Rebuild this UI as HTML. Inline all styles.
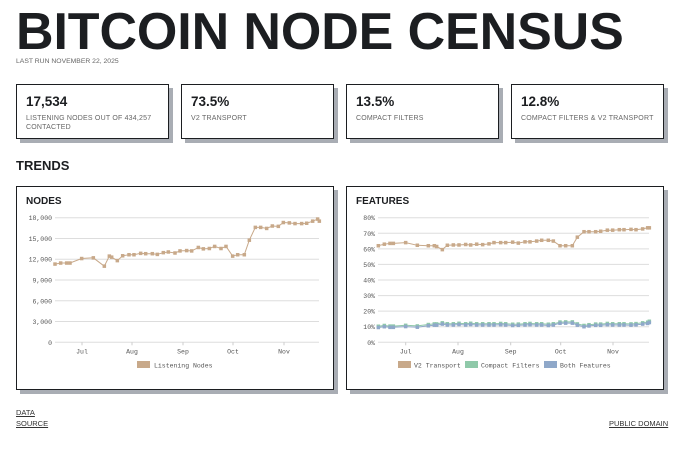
<!DOCTYPE html>
<html><head><meta charset="utf-8"><style>
body{margin:0;width:690px;height:456px;background:#fff;font-family:"Liberation Sans",sans-serif;color:#1c1e21;position:relative;overflow:hidden}
.a{position:absolute;white-space:nowrap}
.card{position:absolute;top:84px;height:55px;border:1.5px solid #1c1e21;background:#fff;box-shadow:4px 4px 0 #a9adb4;box-sizing:border-box}
.card b{position:absolute;left:9px;top:9px;font-size:13.5px}
.card span{position:absolute;left:9px;top:29px;font-size:7px;color:#666;line-height:9px;letter-spacing:.2px}
.box{position:absolute;top:186px;height:204px;border:1.5px solid #1c1e21;box-shadow:4px 4px 0 #a9adb4;box-sizing:border-box;background:#fff}
.ft{font-size:7.5px;color:#333;text-decoration:underline}
svg text{font-family:"Liberation Mono",monospace;font-size:6.5px;fill:#555}
</style></head><body>
<div class="a" style="left:16px;top:2px;font-size:52px;font-weight:bold;letter-spacing:-0.1px">BITCOIN NODE CENSUS</div>
<div class="a" style="left:16px;top:58px;font-size:6.8px;color:#666">LAST RUN NOVEMBER 22, 2025</div>
<div class="card" style="left:16px;width:153px"><b>17,534</b><span>LISTENING NODES OUT OF 434,257<br>CONTACTED</span></div>
<div class="card" style="left:181px;width:153px"><b>73.5%</b><span>V2 TRANSPORT</span></div>
<div class="card" style="left:346px;width:153px"><b>13.5%</b><span>COMPACT FILTERS</span></div>
<div class="card" style="left:511px;width:153px"><b>12.8%</b><span>COMPACT FILTERS &amp; V2 TRANSPORT</span></div>
<div class="a" style="left:16px;top:158px;font-size:13px;font-weight:bold">TRENDS</div>
<div class="box" style="left:16px;width:318px"></div>
<div class="box" style="left:346px;width:318px"></div>
<div class="a" style="left:26px;top:196px;font-size:10px;font-weight:bold">NODES</div>
<div class="a" style="left:356px;top:196px;font-size:10px;font-weight:bold">FEATURES</div>
<svg id="s" class="a" style="left:0;top:0" width="690" height="456"></svg>
<div class="a ft" style="left:16px;top:408px">DATA</div>
<div class="a ft" style="left:16px;top:419px">SOURCE</div>
<div class="a ft" style="left:609px;top:419px">PUBLIC DOMAIN</div>
<script>
var s='';
function g(x0,x1,y0,y1,n,lab){for(var i=0;i<=n;i++){var y=y0+(y1-y0)*i/n;s+='<line x1="'+x0+'" x2="'+x1+'" y1="'+y+'" y2="'+y+'" stroke="#ddd" stroke-width="1"/>';s+='<text x="'+(x0-3)+'" y="'+(y+2.5)+'" text-anchor="end">'+lab[i]+'</text>';}}
function m(xs,y){var n=['Jul','Aug','Sep','Oct','Nov'];for(var i=0;i<5;i++){s+='<line x1="'+xs[i]+'" x2="'+xs[i]+'" y1="'+y+'" y2="'+(y+3)+'" stroke="#ccc"/><text x="'+xs[i]+'" y="'+(y+11)+'" text-anchor="middle">'+n[i]+'</text>';}}
function ser(pts,col){var p=pts.map(function(q){return q[0].toFixed(1)+','+q[1].toFixed(1)}).join(' ');s+='<polyline points="'+p+'" fill="none" stroke="'+col+'" stroke-width="1"/>';pts.forEach(function(q){s+='<rect x="'+(q[0]-1.75)+'" y="'+(q[1]-1.75)+'" width="3.5" height="3.5" fill="'+col+'"/>'});}
g(55,319,342.3,217.7,6,['0','3,000','6,000','9,000','12,000','15,000','18,000']);
m([82,132,183,233,284],342.3);
var N=[[135,11300],[152,11450],[170,11450],[180,11450],[215,12100],[250,12200],[283,11000],[298,12450],[305,12300],[322,11800],[338,12500],[357,12650],[372,12650],[392,12850],[407,12800],[427,12800],[442,12700],[460,12950],[475,13050],[495,12900],[510,13200],[530,13250],[545,13200],[565,13700],[580,13500],[598,13550],[614,13850],[633,13550],[648,13850],[668,12450],[683,12650],[703,12650],[718,14750],[736,16600],[752,16600],[770,16450],[787,16800],[805,16750],[820,17300],[838,17250],[855,17150],[875,17150],[890,17200],[908,17500],[923,17800],[928,17500]];
ser(N.map(function(q){return [q[0]/3+10,342.3-q[1]/18000*124.6]}),'#c8a98a');
g(378,649,342.3,217.7,8,['0%','10%','20%','30%','40%','50%','60%','70%','80%']);
m([405.7,458,510.7,560.7,613],342.3);
var V=[[115,62],[133,63],[150,63.5],[160,63.5],[197,64],[232,62.3],[265,62],[283,62],[290,61.5],[307,59.5],[322,62.3],[340,62.5],[357,62.5],[377,62.8],[392,62.5],[410,63],[428,62.7],[447,63.2],[462,64],[482,64],[497,64],[518,64.3],[535,63.7],[555,64.5],[570,64.5],[590,65],[605,65.5],[625,65.5],[640,65],[660,62],[677,62],[697,62],[712,67.5],[732,71],[747,71],[767,71],[782,71.3],[802,72],[818,72],[838,72.3],[852,72.3],[873,72.5],[888,72.3],[908,72.8],[923,73.5],[928,73.5]];
var C=[10.3,10.8,10.4,10.4,10.9,10.5,11.4,11.8,11.8,12.5,11.9,11.9,12.2,11.9,12.2,11.9,11.9,11.9,11.9,12.1,11.9,11.6,11.7,11.9,12.1,11.9,11.9,11.6,11.9,13,13.1,13.1,11.8,10.8,11.3,11.7,11.7,12.1,11.9,11.9,11.9,11.8,12,12.5,12.9,13.5];
var B=C.map(function(v){return v-0.8});
function fx(q){return q/3+340}function fy(v){return 342.3-v/80*124.6}
ser(V.map(function(q){return [fx(q[0]),fy(q[1])]}),'#c8a98a');
ser(V.map(function(q,i){return [fx(q[0]),fy(C[i])]}),'#8fc9a9');
ser(V.map(function(q,i){return [fx(q[0]),fy(B[i])]}),'#8fa8c9');
s+='<rect x="137" y="361" width="13" height="7" fill="#c8a98a"/><text x="154" y="367.5">Listening Nodes</text>';
s+='<rect x="398" y="361" width="13" height="7" fill="#c8a98a"/><text x="414" y="367.5">V2 Transport</text>';
s+='<rect x="465" y="361" width="13" height="7" fill="#8fc9a9"/><text x="481" y="367.5">Compact Filters</text>';
s+='<rect x="544" y="361" width="13" height="7" fill="#8fa8c9"/><text x="560" y="367.5">Both Features</text>';
document.getElementById('s').innerHTML=s;
</script>
</body></html>
